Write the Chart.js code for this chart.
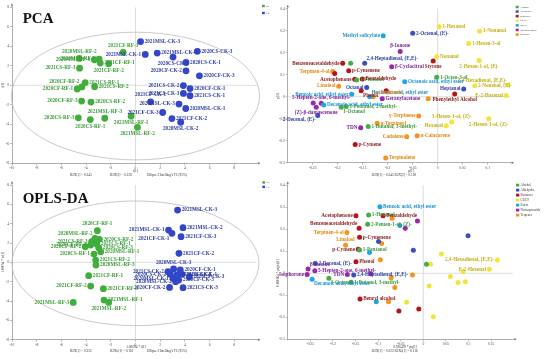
<!DOCTYPE html>
<html>
<head>
<meta charset="utf-8">
<script src="https://cdn.jsdelivr.net/npm/chart.js@4.4.1/dist/chart.umd.min.js"></script>
<style>
  html, body { margin: 0; padding: 0; background: #fff; }
  #wrap { position: relative; width: 550px; height: 359px; overflow: hidden; }
  canvas { position: absolute; }
</style>
</head>
<body>
<div id="wrap">
  <canvas id="pcaScore"  width="275" height="178" style="left:0;top:0"></canvas>
  <canvas id="pcaLoad"   width="275" height="178" style="left:275px;top:0"></canvas>
  <canvas id="oplsScore" width="275" height="181" style="left:0;top:178px"></canvas>
  <canvas id="oplsLoad"  width="275" height="181" style="left:275px;top:178px"></canvas>
</div>
<script>
// ---------------- score plots (samples) ----------------
const scoreGroups = ['RF', 'CK'];

// PCA scores t[1], t[2]
const pcaRF = [[-1.00,3.38],[-4.55,2.76],[-3.33,2.62],[-2.95,2.69],[-2.85,2.28],[-2.17,2.21],
  [-4.53,1.76],[-4.07,0.28],[-4.34,-0.17],[-4.72,-0.38],[-3.31,-0.14],[-4.36,-1.62],
  [-3.60,-1.72],[-4.63,-3.34],[-3.66,-3.52],[-2.49,-3.38],[-0.35,-3.17],[0.16,-4.31]];
const pcaRFNames = ['2021CF-RF-3','2020MSL-RF-2','2020MSL-RF-3','2020MSL-RF-1','2021CF-RF-1','2021CF-RF-2',
  '2021CS-RF-3','2021CS-RF-1','2020CF-RF-2','2020CF-RF-1','2021CS-RF-2','2020CF-RF-3',
  '2020CS-RF-2','2020CS-RF-3','2020CS-RF-1','2021MSL-RF-3','2021MSL-RF-1','2021MSL-RF-2'];
const pcaCK = [[0.41,4.48],[0.79,3.17],[1.76,3.31],[3.04,2.90],[5.01,3.48],[4.09,2.34],
  [4.09,1.48],[5.18,0.97],[3.88,-0.03],[4.42,-0.34],[3.88,-0.83],[4.42,-1.07],
  [1.22,-1.69],[3.52,-1.93],[4.07,-2.38],[2.20,-2.79],[2.95,-3.41],[3.66,-3.79]];
const pcaCKNames = ['2021MSL-CK-3','2021MSL-CK-1','2021MSL-CK-2','2020CS-CK-2','2020CS-CK-3','2020CS-CK-1',
  '2020CF-CK-2','2020CF-CK-3','2021CS-CK-2','2020CF-CK-1','2021CS-CK-3','2021CS-CK-1',
  '2021CF-CK-1','2020MSL-CK-3','2020MSL-CK-1','2021CF-CK-3','2021CF-CK-2','2020MSL-CK-2'];
const pcaEllipse = [0, -1.1, 10.05, 6.55];   // centre x, centre y, half-width, half-height

// OPLS-DA scores
const oplsRF = [[-3.09,3.28],[-3.28,2.48],[-3.55,2.14],[-2.93,2.38],[-4.07,1.62],[-3.63,1.79],
  [-3.14,1.90],[-2.98,1.52],[-2.82,1.10],[-3.36,0.86],[-3.22,0.24],[-3.20,-0.28],
  [-3.79,-1.38],[-3.63,-2.45],[-2.60,-2.72],[-5.04,-4.14],[-2.55,-3.90],[-2.17,-4.14]];
const oplsRFNames = ['2020CF-RF-1','2020MSL-RF-2','2021CS-RF-3','2020CS-RF-2','2020CF-RF-2','2020CF-RF-3',
  '2021CS-RF-1','2020CS-RF-3','2020MSL-RF-1','2020CS-RF-1','2021CS-RF-2','2020MSL-RF-3',
  '2021CF-RF-1','2021CF-RF-2','2021CF-RF-3','2021MSL-RF-3','2021MSL-RF-1','2021MSL-RF-2'];
const oplsCK = [[3.41,5.41],[2.68,3.34],[2.95,3.00],[3.85,3.59],[3.69,2.66],[3.52,0.93],
  [3.09,-0.69],[2.63,-0.97],[3.63,-0.79],[2.82,-1.24],[3.36,-1.31],[3.04,-1.66],
  [3.77,-1.24],[4.36,-1.48],[3.25,-2.00],[3.85,-2.62],[2.76,-2.59],[3.50,-1.83]];
const oplsCKNames = ['2021MSL-CK-3','2021MSL-CK-1','2021CF-CK-1','2021MSL-CK-2','2021CF-CK-3','2021CF-CK-2',
  '2020MSL-CK-3','2021CS-CK-2','2020CF-CK-1','2020CS-CK-2','2021CS-CK-1','2020MSL-CK-1',
  '2020CS-CK-1','2020CS-CK-3','2020MSL-CK-2','2021CS-CK-3','2020CF-CK-2','2020CF-CK-3'];
const oplsEllipse = [0, -0.1, 10.0, 6.45];

// ---------------- loading plots (compounds) ----------------
const categories = ['Alcohol','Aldehydes','Benzenes','C6/C9','Esters','Norisoprenoids','Terpenes'];

// PCA loadings p[1], p[2]
const pcaAlcohol = [[-0.174,0.152],[-0.162,0.076],[-0.002,0.088],[-0.183,-0.045],[-0.193,-0.048],[-0.139,-0.136]];
const pcaAlcoholNames = ['','1-Pentanol','1-Octen-3-ol','1-Pentanol, 2-methyl-','1-Octanol','1-Butanol, 3-methyl-'];
const pcaAldehydes = [[-0.050,0.288],[-0.146,0.152],[-0.142,0.042],[0.052,0.035],[-0.240,-0.086]];
const pcaAldehydesNames = ['2-Octenal, (E)-','2,4-Heptadienal, (E,E)-','Octanal','Heptanal','2-Decenal, (E)-'];
const pcaBenzenes = [[-0.190,0.152],[-0.206,0.106],[-0.178,0.118],[-0.151,0.080],[-0.166,0.079],
  [-0.153,0.027],[-0.103,0.027],[-0.009,0.162],[0.034,0.012],[-0.165,-0.217]];
const pcaBenzenesNames = ['Benzeneacetaldehyde','','p-Cymenene','Benzaldehyde','Acetophenone',
  'Phenol','','Styrene','Phenylethyl Alcohol','p-Cymene'];
const pcaC6C9 = [[0.003,0.318],[0.084,0.298],[0.062,0.242],[-0.002,0.182],[0.083,0.165],[0.142,0.053],
  [0.074,0.050],[0.137,0.006],[0.028,-0.115],[0.017,-0.132],[0.102,-0.100]];
const pcaC6C9Names = ['1-Hexanol','1-Nonanol','1-Hexen-3-ol','Nonanal','2-Hexen-1-ol, (E)-','2,4-Hexadienal, (E,E)-',
  '2-Nonenal, (E)-','E-2-Hexenal','3-Hexen-1-ol, (Z)-','Hexanal','2-Hexen-1-ol, (Z)-'];
const pcaEsters = [[-0.109,0.277],[-0.066,0.068],[-0.172,0.011],[-0.136,0.000],[-0.228,-0.038]];
const pcaEstersNames = ['Methyl salicylate','Octanoic acid, ethyl ester','Benzoic acid, ethyl ester',
  'Hexanoic acid, ethyl ester','Decanoic acid, ethyl ester'];
const pcaNoriso = [[-0.075,0.205],[-0.092,0.136],[-0.111,-0.009],[-0.249,-0.029],[-0.233,-0.030],
  [-0.243,-0.048],[-0.154,-0.141]];
const pcaNorisoNames = ['β-Ionone','β-Cyclocitral','Geranylacetone','','5-Hepten-2-one, 6-methyl-',
  '(Z)-β-damascenone','TDN'];
const pcaTerpenes = [[-0.210,0.114],[-0.198,0.048],[-0.129,0.000],[-0.019,-0.009],[-0.038,-0.088],
  [-0.121,-0.121],[-0.062,-0.182],[-0.041,-0.177],[-0.104,-0.279]];
const pcaTerpenesNames = ['Terpinen-4-ol','Linalool','α-Terpinene','','γ-Terpinene',
  'α-Terpineol','Cadalene','α-Calacorene','Terpinolene'];

// OPLS-DA loadings pq[1], pq(o)[1]
const oplsAlcohol = [[-0.121,0.265],[-0.123,0.223],[-0.141,0.106],[0.007,0.041],[-0.209,-0.023],[-0.160,-0.041]];
const oplsAlcoholNames = ['1-Hexanol','2-Penten-1-ol, (Z)-','1-Pentanol','','1-Octanol','1-Butanol, 3-methyl-'];
const oplsAldehydes = [[0.099,0.171],[-0.099,0.144],[-0.022,0.105],[-0.239,0.045],[-0.154,-0.008]];
const oplsAldehydesNames = ['','','','2-Decenal, (E)-','2,4-Heptadienal, (E,E)-'];
const oplsBenzenes = [[-0.149,0.262],[-0.089,0.262],[-0.142,0.205],[-0.141,0.164],[-0.144,0.109],
  [-0.149,0.053],[-0.140,-0.117],[-0.054,-0.171],[-0.010,-0.162]];
const oplsBenzenesNames = ['Acetophenone','Benzaldehyde','Benzeneacetaldehyde','p-Cymenene','p-Cymene',
  'Phenol','Benzyl alcohol','',''];
const oplsC6C9 = [[0.040,0.088],[0.016,0.041],[0.164,0.061],[0.146,0.018],[0.088,0.008],[0.060,-0.015],
  [0.077,-0.042],[0.093,-0.038],[0.013,-0.058],[-0.037,-0.132],[0.022,-0.198]];
const oplsC6C9Names = ['','','2,4-Hexadienal, (E,E)-','E-2-Hexenal','','','','','','',''];
const oplsEsters = [[-0.096,0.303],[-0.052,0.217],[-0.119,0.095],[-0.246,-0.027],[-0.104,-0.129]];
const oplsEstersNames = ['Benzoic acid, ethyl ester','','','Decanoic acid, ethyl ester',''];
const oplsNoriso = [[-0.013,0.238],[-0.040,0.205],[-0.255,0.020],[-0.240,0.012],[-0.257,-0.005],
  [-0.168,-0.005],[-0.116,-0.002]];
const oplsNorisoNames = ['','','β-Ionone','5-Hepten-2-one, 6-methyl-','Isophorone','TDN',''];
const oplsTerpenes = [[-0.069,0.250],[-0.169,0.186],[-0.172,0.127],[-0.092,0.135],[-0.095,0.062],
  [-0.071,-0.020],[-0.024,-0.008],[-0.063,-0.065],[-0.077,-0.129]];
const oplsTerpenesNames = ['','Terpinen-4-ol','Linalool','','','','','',''];

// ---------------- label placement (r, l, t, b, tl, tr, bl, br) ----------------
const side = s => s.split(' ').map(v => v === '-' ? '' : v);
const pcaRFSide   = side('t t l l r b l r tl l r l r l b t b b');
const pcaCKSide   = side('r l r b r r l r l r l r t l r l r b');
const oplsRFSide  = side('t tl l r l l r r r l r r r l r l r b');
const oplsCKSide  = side('r l bl r r r t l r l r l r r l r l r');
const pcaLoadSide = [
  side('- r r r br r'), side('r tr l l bl'), side('l - r r l br - b b r'),
  side('r r r r b tl r l t l b'), side('l r l tr r'), side('t r r - t b l'), side('l l tr - l r l r r')
];
const oplsLoadSide = [
  side('r r r - br r'), side('- - - r r'), side('l r tl r l r r - -'),
  side('- - l l - - - - - - -'), side('r - - br -'), side('- - tr r l l -'), side('- l t - - - - - -')
];

// ---------------- styles ----------------
const scoreColors = ['#3fae3a', '#3345c8'];
const scoreTextColors = ['#3a9a36', '#2b3a9e'];
const catColors = ['#47ad46', '#3b4fc0', '#b3151b', '#f4e33c', '#1ea6ea', '#9a27ad', '#f59322'];
const catTextColors = ['#3c9a3c', '#3040a0', '#8e1b1b', '#c2b21a', '#1f92d2', '#7c2198', '#e3880f'];
const SERIF = '"Liberation Serif", "Times New Roman", serif';

const toPts = arr => arr.map(([x, y]) => ({ x, y }));
const fmt = v => String(Math.round(v * 1000) / 1000);

// draws zero lines, ellipse, point labels, legend, titles and axis captions
const decor = {
  id: 'decor',
  beforeDatasetsDraw(chart, args, o) {
    const { ctx, chartArea: a, scales: { x, y } } = chart;
    ctx.save();
    ctx.strokeStyle = '#c6c6c6';
    ctx.lineWidth = 0.6;
    const x0 = x.getPixelForValue(0), y0 = y.getPixelForValue(0);
    ctx.beginPath();
    ctx.moveTo(x0, a.top); ctx.lineTo(x0, a.bottom);
    ctx.moveTo(a.left, y0); ctx.lineTo(a.right, y0);
    ctx.stroke();
    if (o.ellipse) {
      const [ecx, ecy, erx, ery] = o.ellipse;
      const cx = x.getPixelForValue(ecx), cy = y.getPixelForValue(ecy);
      const rx = x.getPixelForValue(ecx + erx) - cx;
      const ry = cy - y.getPixelForValue(ecy + ery);
      ctx.beginPath();
      ctx.ellipse(cx, cy, rx, ry, 0, 0, Math.PI * 2);
      ctx.strokeStyle = '#bdbdbd';
      ctx.lineWidth = 0.8;
      ctx.stroke();
    }
    ctx.restore();
  },
  afterDatasetsDraw(chart, args, o) {
    const { ctx } = chart;
    ctx.save();
    ctx.font = `bold ${o.labelSize}px ${SERIF}`;
    chart.data.datasets.forEach((ds, di) => {
      const meta = chart.getDatasetMeta(di);
      ctx.fillStyle = ds.labelColor;
      meta.data.forEach((pt, i) => {
        const name = ds.names[i];
        if (!name) return;
        const s = ds.sides[i] || 'r';
        const r = ds.pointRadius + 0.7, h = r * 0.6;
        let tx = pt.x, ty = pt.y, align = 'left', base = 'middle';
        if (s === 'r') tx += r;
        else if (s === 'l') { tx -= r; align = 'right'; }
        else if (s === 't') { ty -= r; align = 'center'; base = 'bottom'; }
        else if (s === 'b') { ty += r; align = 'center'; base = 'top'; }
        else if (s === 'tl') { tx -= h; ty -= h; align = 'right'; base = 'bottom'; }
        else if (s === 'tr') { tx += h; ty -= h; base = 'bottom'; }
        else if (s === 'bl') { tx -= h; ty += h; align = 'right'; base = 'top'; }
        else if (s === 'br') { tx += h; ty += h; base = 'top'; }
        ctx.textAlign = align;
        ctx.textBaseline = base;
        ctx.fillText(name, tx, ty);
      });
    });
    ctx.restore();
  },
  afterDraw(chart, args, o) {
    const { ctx, chartArea: a } = chart;
    ctx.save();
    // axis arrows
    ctx.fillStyle = '#777';
    ctx.strokeStyle = '#777';
    ctx.lineWidth = 0.6;
    ctx.beginPath();
    ctx.moveTo(a.right, a.bottom); ctx.lineTo(a.right + 2, a.bottom);
    ctx.moveTo(a.left, a.top); ctx.lineTo(a.left, a.top - 2);
    ctx.stroke();
    ctx.beginPath();
    ctx.moveTo(a.right + 4, a.bottom); ctx.lineTo(a.right + 1.5, a.bottom - 1.2); ctx.lineTo(a.right + 1.5, a.bottom + 1.2);
    ctx.closePath(); ctx.fill();
    ctx.beginPath();
    ctx.moveTo(a.left, a.top - 4); ctx.lineTo(a.left - 1.2, a.top - 1.5); ctx.lineTo(a.left + 1.2, a.top - 1.5);
    ctx.closePath(); ctx.fill();

    // big panel title
    if (o.title) {
      ctx.fillStyle = '#111';
      ctx.font = `bold 15px ${SERIF}`;
      ctx.textAlign = 'left';
      ctx.textBaseline = 'alphabetic';
      ctx.fillText(o.title, o.titlePos[0], o.titlePos[1]);
    }

    // legend from datasets
    const lg = o.legend;
    chart.data.datasets.forEach((ds, i) => {
      const ly = lg.y + i * lg.step;
      ctx.fillStyle = ds.backgroundColor;
      ctx.fillRect(lg.x, ly, lg.box, lg.box * 0.85);
      ctx.fillStyle = '#333';
      ctx.font = `${lg.font}px ${SERIF}`;
      ctx.textAlign = 'left';
      ctx.textBaseline = 'middle';
      ctx.fillText(ds.label, lg.x + lg.box + 1.2, ly + lg.box * 0.42);
    });

    // axis titles and statistics line
    ctx.fillStyle = '#333';
    ctx.font = `3.4px ${SERIF}`;
    ctx.textBaseline = 'middle';
    ctx.textAlign = 'center';
    ctx.fillText(o.xTitle, o.xTitlePos[0], o.xTitlePos[1]);
    o.captions.forEach(c => {
      ctx.textAlign = 'left';
      ctx.fillText(c[0], c[1], c[2]);
    });
    ctx.translate(o.yTitlePos[0], o.yTitlePos[1]);
    ctx.rotate(-Math.PI / 2);
    ctx.textAlign = 'center';
    ctx.fillText(o.yTitle, 0, 0);
    ctx.restore();
  }
};

function axis(min, max, step, fit) {
  return {
    type: 'linear', min, max,
    afterFit: fit,
    ticks: { stepSize: step, includeBounds: false, autoSkip: false, maxRotation: 0, padding: 1,
             color: '#444', font: { size: 3.6, family: SERIF }, callback: fmt },
    grid: { drawOnChartArea: false, tickLength: 2, color: '#777', lineWidth: 0.5 },
    border: { display: true, color: '#777', width: 0.6 }
  };
}

function makeChart(id, datasets, f) {
  const cv = document.getElementById(id);
  const W = cv.width, H = cv.height;
  const [left, top, right, bottom] = f.area;
  return new Chart(cv, {
    type: 'scatter',
    data: { datasets },
    options: {
      responsive: false, animation: false, devicePixelRatio: 1,
      layout: { autoPadding: false, padding: { left: 0, top, right: W - right, bottom: 0 } },
      scales: {
        x: axis(f.x[0], f.x[1], f.x[2], s => { s.height = H - bottom; }),
        y: axis(f.y[0], f.y[1], f.y[2], s => { s.width = left; })
      },
      plugins: { legend: { display: false }, tooltip: { enabled: false }, decor: f.decor }
    },
    plugins: [decor]
  });
}

function scoreSets(rf, rfNames, rfSide, ck, ckNames, ckSide) {
  const src = [[rf, rfNames, rfSide], [ck, ckNames, ckSide]];
  return src.map(([pts, names, sides], i) => ({
    label: scoreGroups[i], data: toPts(pts), names, sides,
    backgroundColor: scoreColors[i], labelColor: scoreTextColors[i],
    pointRadius: 3.4, pointHoverRadius: 3.4, borderWidth: 0
  }));
}

function loadSets(groups, sides) {
  return groups.map(([pts, names], i) => ({
    label: categories[i], data: toPts(pts), names, sides: sides[i],
    backgroundColor: catColors[i], labelColor: catTextColors[i],
    pointRadius: 2.5, pointHoverRadius: 2.5, borderWidth: 0
  }));
}

// PCA scores
makeChart('pcaScore', scoreSets(pcaRF, pcaRFNames, pcaRFSide, pcaCK, pcaCKNames, pcaCKSide), {
  area: [12, 7.3, 256.5, 163.3], x: [-10, 9.8, 2], y: [-8, 8, 2],
  decor: {
    ellipse: pcaEllipse, labelSize: 5.2, title: 'PCA', titlePos: [22.7, 23],
    legend: { x: 262, y: 4.8, step: 7, box: 2.8, font: 2.8 },
    xTitle: 't[1]', xTitlePos: [135.5, 171],
    captions: [['R2X[1] = 0.245', 70, 175.3], ['R2X[2] = 0.128', 110, 175.3], ["Ellipse: Hotelling's T2 (95%)", 147, 175.3]],
    yTitle: 't[2]', yTitlePos: [3, 85]
  }
});

// PCA loadings
makeChart('pcaLoad', loadSets([
  [pcaAlcohol, pcaAlcoholNames], [pcaAldehydes, pcaAldehydesNames], [pcaBenzenes, pcaBenzenesNames],
  [pcaC6C9, pcaC6C9Names], [pcaEsters, pcaEstersNames], [pcaNoriso, pcaNorisoNames], [pcaTerpenes, pcaTerpenesNames]
], pcaLoadSide), {
  area: [12.7, 8.7, 235.2, 162.7], x: [-0.3, 0.145, 0.05], y: [-0.3, 0.4, 0.1],
  decor: {
    labelSize: 5.2,
    legend: { x: 240.7, y: 5.7, step: 4.6, box: 3, font: 2.7 },
    xTitle: 'p[1]', xTitlePos: [136, 171],
    captions: [['R2X[1] = 0.245 R2X[2] = 0.128', 97, 175]],
    yTitle: 'p[2]', yTitlePos: [3, 96]
  }
});

// OPLS-DA scores
makeChart('oplsScore', scoreSets(oplsRF, oplsRFNames, oplsRFSide, oplsCK, oplsCKNames, oplsCKSide), {
  area: [12, 7.0, 256.5, 161.7], x: [-10, 9.8, 2], y: [-8, 8, 2],
  decor: {
    ellipse: oplsEllipse, labelSize: 5.2, title: 'OPLS-DA', titlePos: [22.7, 25],
    legend: { x: 262.3, y: 3.3, step: 4.4, box: 2.7, font: 2.6 },
    xTitle: '1.00094 * t[1]', xTitlePos: [136, 169],
    captions: [['R2X[1] = 0.222', 70, 173.3], ['R2Xo[1] = 0.116', 110, 173.3], ["Ellipse: Hotelling's T2 (95%)", 147, 173.3]],
    yTitle: '1.00094 * to[1]', yTitlePos: [3, 84]
  }
});

// OPLS-DA loadings
makeChart('oplsLoad', loadSets([
  [oplsAlcohol, oplsAlcoholNames], [oplsAldehydes, oplsAldehydesNames], [oplsBenzenes, oplsBenzenesNames],
  [oplsC6C9, oplsC6C9Names], [oplsEsters, oplsEstersNames], [oplsNoriso, oplsNorisoNames], [oplsTerpenes, oplsTerpenesNames]
], oplsLoadSide), {
  area: [12.7, 7.3, 237.8, 161.3], x: [-0.3, 0.198, 0.05], y: [-0.3, 0.4, 0.1],
  decor: {
    labelSize: 5.2,
    legend: { x: 241, y: 5.7, step: 5, box: 3.3, font: 3.2 },
    xTitle: '0.926478 * pq[1]', xTitlePos: [130, 169],
    captions: [['R2X[1] = 0.222 R2Xo[1] = 0.116', 97, 173]],
    yTitle: '0.860864 * pq(o)[1]', yTitlePos: [3, 95]
  }
});
</script>
</body>
</html>
